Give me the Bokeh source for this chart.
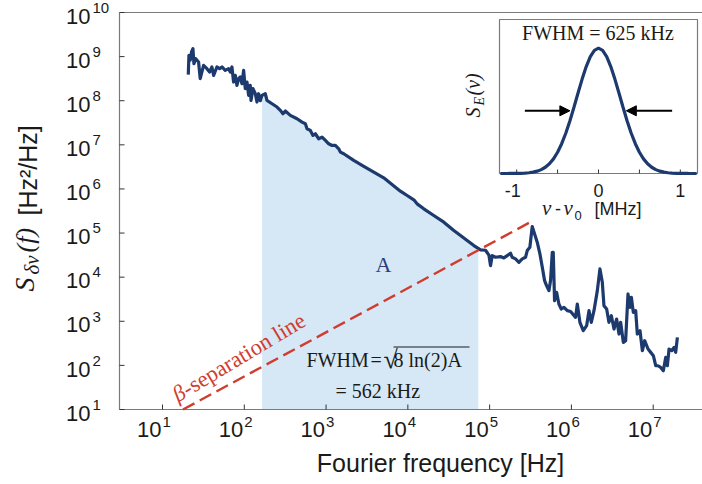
import math
import numpy as np
from bokeh.plotting import figure
from bokeh.models import Range1d, LinearScale, Label, Arrow, NormalHead
from bokeh.embed import file_html
from bokeh.resources import INLINE

# ---------------- data ----------------
# frequency noise PSD: log10(f / Hz) and log10(S / (Hz^2/Hz))
log_freq = [
    1.315, 1.323, 1.339, 1.355, 1.372, 1.384, 1.404, 1.441, 1.461, 1.502,
    1.543, 1.576, 1.604, 1.625, 1.665, 1.698, 1.727, 1.767, 1.808, 1.829,
    1.849, 1.869, 1.890, 1.910, 1.931, 1.951, 1.971, 1.992, 2.012, 2.033,
    2.053, 2.073, 2.082, 2.106, 2.135, 2.155, 2.175, 2.196,
    2.216, 2.257, 2.277, 2.339, 2.400, 2.441, 2.473, 2.502, 2.563, 2.645,
    2.706, 2.747, 2.767, 2.808, 2.840, 2.869, 2.910, 2.951, 2.992, 3.032,
    3.073, 3.114, 3.155, 3.175, 3.216, 3.338, 3.461, 3.583, 3.705,
    3.746, 3.848, 3.909, 3.991, 4.073, 4.113, 4.195, 4.317, 4.440, 4.562,
    4.644, 4.725, 4.807,
    4.889, 4.950, 4.991, 5.011, 5.032, 5.072, 5.133, 5.174, 5.215, 5.256,
    5.276, 5.317, 5.358, 5.399, 5.439, 5.460, 5.492, 5.521, 5.550, 5.582,
    5.615, 5.644, 5.672, 5.696, 5.725, 5.745, 5.766, 5.778, 5.794, 5.819,
    5.847, 5.876, 5.909, 5.950,
    5.990, 6.051, 6.072, 6.104, 6.145, 6.186, 6.215, 6.243, 6.276, 6.317,
    6.349, 6.378, 6.398, 6.431, 6.459, 6.488, 6.521, 6.553, 6.582, 6.602,
    6.635, 6.663, 6.692, 6.716, 6.733, 6.757, 6.786, 6.806, 6.839, 6.868,
    6.896, 6.937, 6.970, 7.002, 7.031, 7.059, 7.092, 7.124, 7.153, 7.173,
    7.194, 7.226, 7.255, 7.275, 7.296,
]
log_psd = [
    8.591, 9.030, 8.916, 9.105, 9.181, 8.840, 8.954, 8.878, 8.500, 8.802,
    8.727, 8.651, 8.765, 8.575, 8.765, 8.727, 8.765, 8.689, 8.727, 8.651,
    8.765, 8.424, 8.575, 8.348, 8.500, 8.538, 8.386, 8.689, 8.273, 8.424,
    8.121, 8.348, 8.008, 8.273, 8.159, 7.970, 8.159, 8.000,
    8.121, 8.159, 8.008, 7.932, 7.857, 7.781, 7.705, 7.766, 7.667, 7.592,
    7.516, 7.478, 7.365, 7.327, 7.213, 7.251, 7.138, 7.175, 7.100, 7.024,
    6.986, 6.986, 6.910, 6.835, 6.797, 6.646, 6.510, 6.381, 6.252,
    6.192, 6.041, 5.950, 5.851, 5.753, 5.662, 5.549, 5.397, 5.246, 5.057,
    4.943, 4.830, 4.716,
    4.620, 4.610, 4.500, 4.262, 4.489, 4.451, 4.467, 4.436, 4.489, 4.542,
    4.451, 4.414, 4.338, 4.414, 4.451, 4.603, 4.678, 5.148, 4.981, 4.792,
    4.527, 4.224, 3.922, 3.808, 3.695, 3.922, 4.565, 4.565, 3.468, 3.657,
    3.392, 3.279, 3.316, 3.241,
    3.220, 3.089, 3.392, 2.976, 2.786, 2.900, 3.241, 2.976, 3.241, 3.695,
    4.186, 3.884, 3.354, 3.278, 2.976, 3.127, 2.824, 3.051, 2.711, 2.976,
    2.522, 2.560, 3.619, 3.316, 3.543, 3.203, 3.241, 2.711, 2.786, 2.333,
    2.560, 2.371, 2.295, 2.219, 1.992, 1.992, 1.954, 1.878, 2.181, 1.992,
    2.371, 2.333, 2.408, 2.295, 2.635,
]
assert len(log_freq) == len(log_psd)
freq_hz = [10 ** v for v in log_freq]
psd = [10 ** v for v in log_psd]

# integrated area A (shaded) bounds, Hz
area_f_lo = 165.0
area_f_hi = 7.28e4

# beta-separation line end points
beta_f = [17.8, 3.15e5]
beta_S = [10.0, 1.77e5]

# main axes ticks
x_exps = [1, 2, 3, 4, 5, 6, 7]
y_exps = [1, 2, 3, 4, 5, 6, 7, 8, 9, 10]
x_ticks = [10.0 ** e for e in x_exps]
y_ticks = [10.0 ** e for e in y_exps]

# inset: laser line shape S_E(nu), nu - nu0 in MHz, normalised
inset_nu = [
    -1.20, -1.15, -1.10, -1.05, -1.00, -0.95, -0.90, -0.85, -0.80, -0.75,
    -0.70, -0.65, -0.60, -0.55, -0.50, -0.45, -0.40, -0.35, -0.30, -0.25,
    -0.20, -0.15, -0.10, -0.05, 0.00, 0.05, 0.10, 0.15, 0.20, 0.25,
    0.30, 0.35, 0.40, 0.45, 0.50, 0.55, 0.60, 0.65, 0.70, 0.75,
    0.80, 0.85, 0.90, 0.95, 1.00, 1.05, 1.10, 1.15, 1.20,
]
inset_S = [
    0.0000, 0.0001, 0.0002, 0.0004, 0.0008, 0.0017, 0.0032, 0.0059, 0.0106, 0.0185,
    0.0309, 0.0498, 0.0776, 0.1168, 0.1696, 0.2376, 0.3212, 0.4192, 0.5279, 0.6417,
    0.7529, 0.8524, 0.9315, 0.9824, 1.0000, 0.9824, 0.9315, 0.8524, 0.7529, 0.6417,
    0.5279, 0.4192, 0.3212, 0.2376, 0.1696, 0.1168, 0.0776, 0.0498, 0.0309, 0.0185,
    0.0106, 0.0059, 0.0032, 0.0017, 0.0008, 0.0004, 0.0002, 0.0001, 0.0000,
]
inset_xlim = [-1.21, 1.21]
inset_ylim = [0.0, 1.228]
inset_major = [-1.0, 0.0, 1.0]
inset_major_labels = ["-1", "0", "1"]
inset_minor = [-0.5, 0.5]
arrow_from = [-0.90, 0.90]
arrow_to = [-0.35, 0.34]
arrow_level = 0.5

# ---------------- style / layout ----------------
NAVY = "#1d3a6e"
SHADE = "#d6e8f6"
RED = "#d03c30"
GRAY = "#7a7a7a"
TICK = "#333333"
TXT = "#1a1a1a"
SANS = "Liberation Sans"
SERIF = "Liberation Serif"

W, H = 702, 484
# axes box in canvas pixels and its decades
FL, FR, FT, FB = 119, 702, 12, 409
LX0, LX1 = 0.474, 7.603
LY0, LY1 = 1.0, 10.0


def px2x(px):
    return 10 ** (LX0 + (px - FL) / (FR - FL) * (LX1 - LX0))


def py2y(py):
    return 10 ** (LY1 - (py - FT) / (FB - FT) * (LY1 - LY0))


def x2px(v):
    return FL + (math.log10(v) - LX0) / (LX1 - LX0) * (FR - FL)


def y2py(v):
    return FT + (LY1 - math.log10(v)) / (LY1 - LY0) * (FB - FT)


# the frame covers the whole canvas; the axes box is drawn by hand inside it
p = figure(width=W, height=H, x_axis_type="log", y_axis_type="log",
           x_range=Range1d(px2x(0), px2x(W)), y_range=Range1d(py2y(H), py2y(0)),
           x_axis_location=None, y_axis_location=None,
           output_backend="svg", toolbar_location=None,
           min_border_left=0, min_border_right=0, min_border_top=0, min_border_bottom=0)
p.outline_line_color = None
p.grid.visible = False
p.background_fill_color = "white"
p.border_fill_color = "white"

XA, XB = 10 ** LX0, 10 ** LX1
YA, YB = 10 ** LY0, 10 ** LY1

# ---- shaded area A ----
lo, hi = math.log10(area_f_lo), math.log10(area_f_hi)
sel = [i for i, v in enumerate(log_freq) if lo < v < hi]
shade_lx = [lo] + [log_freq[i] for i in sel] + [hi]
shade_ly = [float(np.interp(lo, log_freq, log_psd))] + [log_psd[i] for i in sel] + \
           [float(np.interp(hi, log_freq, log_psd))]
p.varea(x=[10 ** v for v in shade_lx], y1=YA, y2=[10 ** v for v in shade_ly],
        fill_color=SHADE, fill_alpha=1.0)

# ---- axes lines and ticks ----
p.segment(x0=[XA, XA, XA], y0=[YA, YA, YB], x1=[XB, XA, XB], y1=[YA, YB, YB],
          line_color=GRAY, line_width=1.2)
p.segment(x0=x_ticks, y0=[YA] * len(x_ticks), x1=x_ticks, y1=[py2y(FB - 5)] * len(x_ticks),
          line_color=TICK, line_width=1)
p.segment(x0=[XA] * len(y_ticks), y0=y_ticks, x1=[px2x(FL + 5)] * len(y_ticks), y1=y_ticks,
          line_color=TICK, line_width=1)

# ---- PSD curve ----
p.line(freq_hz, psd, line_color=NAVY, line_width=3.2, line_join="round")

# ---- beta separation line ----
p.line(beta_f, beta_S, line_color=RED, line_width=2.4, line_dash="13 6")

# ---- inset (own linear scales mapped onto a sub-box of the canvas) ----
IL, IR, IT, IB = 499, 697, 19, 173
kx = (inset_xlim[1] - inset_xlim[0]) / (IR - IL)
ky = (inset_ylim[1] - inset_ylim[0]) / (IB - IT)
p.extra_x_ranges = {"in": Range1d(inset_xlim[0] - IL * kx, inset_xlim[1] + (W - IR) * kx)}
p.extra_y_ranges = {"in": Range1d(inset_ylim[0] - (H - IB) * ky, inset_ylim[1] + IT * ky)}
p.extra_x_scales = {"in": LinearScale()}
p.extra_y_scales = {"in": LinearScale()}


def ix2px(v):
    return IL + (v - inset_xlim[0]) / kx


def iy2py(v):
    return IB - (v - inset_ylim[0]) / ky


p.quad(left=inset_xlim[0], right=inset_xlim[1], bottom=inset_ylim[0], top=inset_ylim[1],
       fill_color="white", line_color=GRAY, line_width=1.2, x_range_name="in", y_range_name="in")
tk = inset_major + inset_minor
p.segment(x0=tk, y0=[inset_ylim[0]] * len(tk), x1=tk, y1=[inset_ylim[0] + 4 * ky] * len(tk),
          line_color=TICK, line_width=1, x_range_name="in", y_range_name="in")
p.line(inset_nu, inset_S, line_color=NAVY, line_width=3.2, x_range_name="in", y_range_name="in")
for a, b in zip(arrow_from, arrow_to):
    p.add_layout(Arrow(x_start=px2x(ix2px(a)), y_start=py2y(iy2py(arrow_level)),
                       x_end=px2x(ix2px(b)), y_end=py2y(iy2py(arrow_level)),
                       line_color="black", line_width=2,
                       end=NormalHead(size=10, fill_color="black", line_color="black", line_width=1)))


# ---------------- texts ----------------
BASE_K = 0.38  # renderer places the alphabetic baseline this many em too low


def lab(text, px, py, size, font=SANS, style="normal", align="left", color=TXT, angle=0.0):
    d = BASE_K * size
    t = math.radians(angle)
    px_c = px - d * math.sin(t)
    py_c = py - d * math.cos(t)
    p.add_layout(Label(x=px2x(px_c), y=py2y(py_c), text=text, text_font=font,
                       text_font_size=f"{size}px", text_font_style=style, text_align=align,
                       text_baseline="alphabetic", text_color=color, angle=angle,
                       angle_units="deg"))


# x tick labels
for e, t in zip(x_exps, x_ticks):
    tx = x2px(t)
    lab("10", tx - 1, 437, 22, align="right")
    lab(str(e), tx, 427, 15)
# y tick labels
for e, t in zip(y_exps, y_ticks):
    ty = y2py(t)
    lab("10", 90, ty + 12, 22, align="right")
    lab(str(e), 92, ty + 1, 15)

# axis titles
lab("Fourier frequency [Hz]", 440, 472, 25, align="center")
lab("S", 35, 291, 28, font=SERIF, style="italic", angle=90)
lab("δν", 39, 274, 21, font=SERIF, style="italic", angle=90)
lab("(f)", 35, 252, 26, font=SERIF, style="italic", angle=90)
lab("[Hz²/Hz]", 37, 215, 25, angle=90)

# area annotation
lab("A", 383, 272, 22, font=SERIF, color="#2c3f7c", align="center")
lab("FWHM", 306, 367, 20, font=SERIF)
lab("=", 370, 367, 20, font=SERIF)
lab("√", 383, 369, 26, font=SERIF)
lab("8 ln(2)A", 393, 367, 20, font=SERIF)
p.segment(x0=[px2x(393)], y0=[py2y(346.5)], x1=[px2x(469)], y1=[py2y(346.5)],
          line_color=TXT, line_width=1.1)
lab("= 562 kHz", 335, 398, 20, font=SERIF)

# beta separation label
ang = 31.0
ca, sa = math.cos(math.radians(ang)), math.sin(math.radians(ang))
bx, by = 178, 403
lab("β", bx, by, 22.5, font=SERIF, style="italic", color=RED, angle=ang)
lab("-separation line", bx + 11.5 * ca, by - 11.5 * sa, 22.5, font=SERIF, color=RED, angle=ang)

# inset texts
lab("FWHM = 625 kHz", 597.5, 40, 20, font=SERIF, align="center")
for v, s in zip(inset_major, inset_major_labels):
    if s.startswith("-"):
        lab(s, ix2px(v) + 4, 197, 18, align="right")
    else:
        lab(s, ix2px(v), 197, 18, align="center")
lab("ν", 541.5, 215, 21, font=SERIF, style="italic")
lab("-", 557.5, 215, 18, align="center")
lab("ν", 563, 215, 21, font=SERIF, style="italic")
lab("0", 574, 220, 13)
lab("[MHz]", 594, 215, 18)
lab("S", 480, 117, 20, font=SERIF, style="italic", angle=90)
lab("E", 484, 105, 14, font=SERIF, style="italic", angle=90)
lab("(ν)", 480, 95, 20, font=SERIF, style="italic", angle=90)

open("out.html", "w").write(file_html(p, INLINE))
